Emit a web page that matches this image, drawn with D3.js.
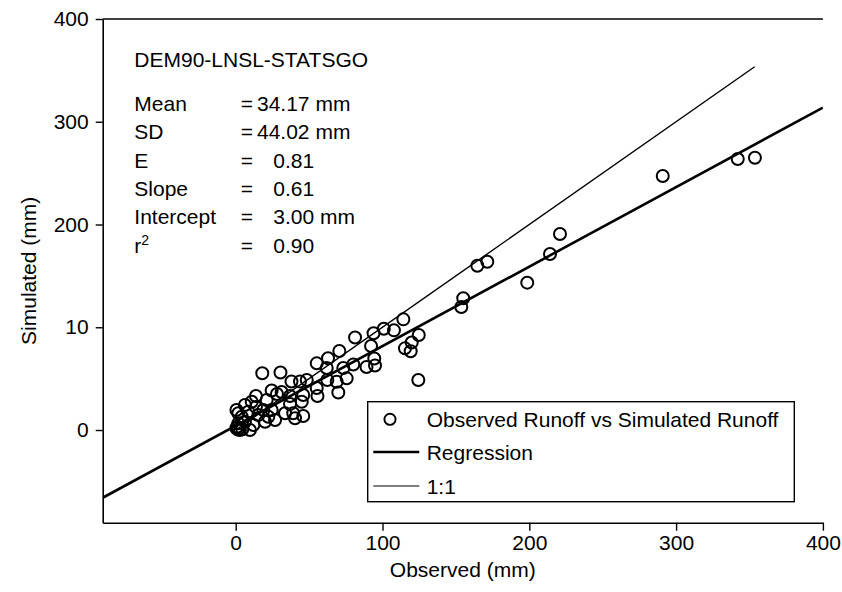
<!DOCTYPE html>
<html>
<head>
<meta charset="utf-8">
<script src="https://cdn.jsdelivr.net/npm/d3@7"></script>
<style>
  html, body { margin: 0; padding: 0; background: #fff; }
  svg { display: block; }
  text { font-family: "Liberation Sans", Arial, Helvetica, sans-serif; fill: #000; }
</style>
</head>
<body>
<svg id="chart" width="842" height="592"></svg>
<script>
// ---- data ----
const observed = [164.6,171.4,220.9,214.1,198.6,155.0,153.7,290.9,342.0,353.7,
  114.2,124.7,119.9,115.3,119.2,124.4,107.8,100.9,93.9,81.3,92.2,70.6,62.9,55.2,
  89.1,94.4,94.9,80.1,73.3,75.6,69.9,68.8,62.0,62.4,55.2,55.7,48.4,43.8,38.0,30.5,
  18.1,31.3,28.1,24.5,37.0,46.0,45.0,37.0,39.2,46.0,33.6,40.4,13.8,21.1,10.9,6.3,
  0.5,1.8,4.1,8.6,18.8,24.5,15.4,26.8,1.8,6.3,12.0,0.5,2.9,9.7,1.0,20.0,22.2,13.8,4.5,1.5];
const simulated = [159.9,163.8,190.8,171.3,143.4,128.2,119.7,247.2,263.7,265.0,
  107.7,92.5,85.2,79.5,76.7,48.7,97.0,98.5,94.1,90.0,81.8,76.9,69.8,64.9,
  61.3,69.6,62.8,63.7,60.3,50.3,36.5,47.0,60.3,48.7,40.9,33.1,48.7,47.2,47.2,56.0,
  55.2,37.0,35.0,38.4,33.1,34.1,27.5,25.3,16.3,13.6,16.3,11.4,33.1,29.2,27.5,24.3,
  19.5,16.3,12.9,17.8,19.5,19.5,14.6,9.7,6.5,8.1,4.9,1.7,0,0,3.2,8.1,12.9,22.4,0.8,0.5];
const regression = { intercept: 4.2, slope: 0.774 };
const oneToOne = [0, 353.5];
const xTicks = [0, 100, 200, 300, 400];
const yTicks = [0, 100, 200, 300, 400];
const yTickLabels = ["0", "10", "200", "300", "400"];
const title = "DEM90-LNSL-STATSGO";
const statNames = ["Mean", "SD", "E", "Slope", "Intercept", "r"];
const statValues = ["34.17 mm", "44.02 mm", "0.81", "0.61", "3.00 mm", "0.90"];
const legendLabels = ["Observed Runoff vs Simulated Runoff", "Regression", "1:1"];

// ---- layout ----
const svg = d3.select("#chart");
const L = 102.7, R = 822.9, T = 19, B = 522.7;
const x = d3.scaleLinear().domain([-90.6, 400]).range([L, R]);
const y = d3.scaleLinear().domain([-90.2, 400]).range([B, T]);
const FS = 21;

// axes
const xAxis = svg.append("g").attr("transform", `translate(0,${B})`)
  .call(d3.axisBottom(x).tickValues(xTicks).tickSize(8).tickPadding(4).tickSizeOuter(0));
const yAxis = svg.append("g").attr("transform", `translate(${L},0)`)
  .call(d3.axisLeft(y).tickValues(yTicks).tickFormat((d, i) => yTickLabels[i]).tickSize(7).tickPadding(7).tickSizeOuter(0));
[xAxis, yAxis].forEach(g => {
  g.select(".domain").attr("stroke", "#000").attr("stroke-width", 1.6);
  g.selectAll(".tick line").attr("stroke", "#000").attr("stroke-width", 1.4);
  g.selectAll("text").attr("font-size", FS).attr("font-family", "Liberation Sans, Arial, sans-serif").attr("fill", "#000");
});
// top frame line
svg.append("line").attr("x1", L).attr("x2", R).attr("y1", T).attr("y2", T)
  .attr("stroke", "#000").attr("stroke-width", 1.6);

// axis titles
svg.append("text").attr("x", (L + R) / 2).attr("y", 577).attr("text-anchor", "middle")
  .attr("font-size", FS).text("Observed (mm)");
svg.append("text").attr("transform", `translate(36,${(T + B) / 2}) rotate(-90)`)
  .attr("text-anchor", "middle").attr("font-size", FS).text("Simulated (mm)");

// clip
svg.append("clipPath").attr("id", "clip").append("rect")
  .attr("x", L).attr("y", T).attr("width", R - L).attr("height", B - T);
const plot = svg.append("g").attr("clip-path", "url(#clip)");

// regression line
const regX = x.domain();
plot.append("line")
  .attr("x1", x(regX[0])).attr("y1", y(regression.intercept + regression.slope * regX[0]))
  .attr("x2", x(regX[1])).attr("y2", y(regression.intercept + regression.slope * regX[1]))
  .attr("stroke", "#000").attr("stroke-width", 2.6);
// 1:1 line
plot.append("line")
  .attr("x1", x(oneToOne[0])).attr("y1", y(oneToOne[0]))
  .attr("x2", x(oneToOne[1])).attr("y2", y(oneToOne[1]))
  .attr("stroke", "#000").attr("stroke-width", 1.4);

// points
plot.selectAll("circle.pt").data(observed.map((d, i) => [d, simulated[i]]))
  .enter().append("circle").attr("class", "pt")
  .attr("cx", d => x(d[0])).attr("cy", d => y(d[1])).attr("r", 6)
  .attr("fill", "none").attr("stroke", "#000").attr("stroke-width", 2);

// stats text
svg.append("text").attr("x", 134.3).attr("y", 66.7).attr("font-size", FS).text(title);
statNames.forEach((n, i) => {
  const by = 111 + i * 28.34;
  const t = svg.append("text").attr("x", 134.3).attr("y", by).attr("font-size", FS);
  if (n === "r") {
    t.text("r");
    t.append("tspan").attr("font-size", 14).attr("dy", -8).text("2");
  } else t.text(n);
  svg.append("text").attr("x", 240.7).attr("y", by).attr("font-size", FS).text("=");
  const vx = i < 2 ? 257 : 273.3;
  svg.append("text").attr("x", vx).attr("y", by).attr("font-size", FS).text(statValues[i]);
});

// legend
const lg = svg.append("g");
lg.append("rect").attr("x", 367.7).attr("y", 401.7).attr("width", 794.3 - 367.7).attr("height", 100)
  .attr("fill", "#fff").attr("stroke", "#000").attr("stroke-width", 1.4);
const rowsY = [419.3, 452, 486];
lg.append("circle").attr("cx", 390).attr("cy", rowsY[0]).attr("r", 5.6)
  .attr("fill", "none").attr("stroke", "#000").attr("stroke-width", 1.9);
lg.append("line").attr("x1", 373.3).attr("x2", 419.3).attr("y1", rowsY[1]).attr("y2", rowsY[1])
  .attr("stroke", "#000").attr("stroke-width", 2.6);
lg.append("line").attr("x1", 373.3).attr("x2", 419.3).attr("y1", rowsY[2]).attr("y2", rowsY[2])
  .attr("stroke", "#000").attr("stroke-width", 1.2);
legendLabels.forEach((s, i) => {
  lg.append("text").attr("x", 426.7).attr("y", rowsY[i] + 7.5).attr("font-size", FS).text(s);
});
</script>
</body>
</html>
